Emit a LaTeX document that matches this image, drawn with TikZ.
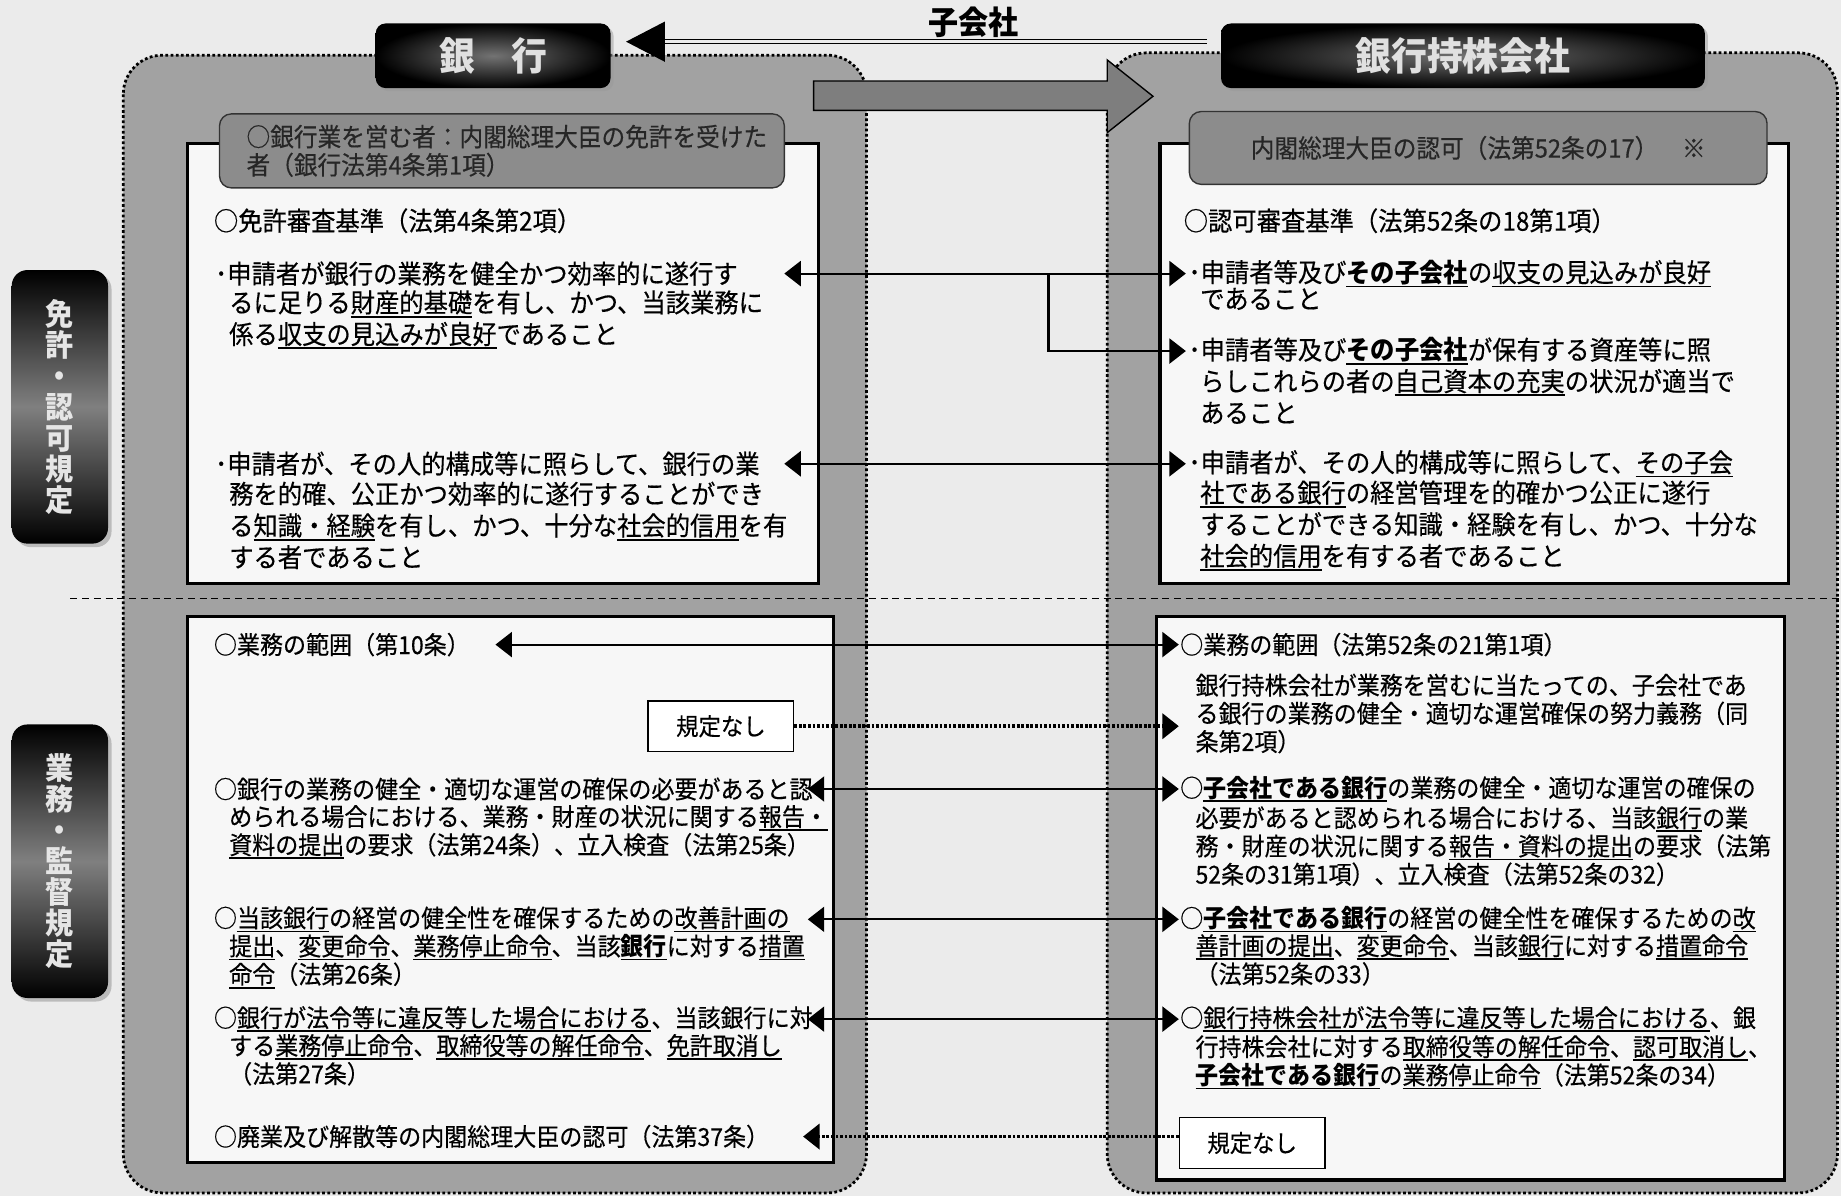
\documentclass[tikz,border=0pt]{standalone}
\usepackage{fontspec}
\setmainfont{Noto Sans CJK JP}[FakeStretch=0.93, UprightFeatures={FakeBold=0.4}]
\usepackage{tikz}
\usetikzlibrary{arrows.meta,calc,shadows}
\definecolor{paper}{HTML}{EBEBEB}
\definecolor{slate}{HTML}{A2A2A2}
\definecolor{sheet}{HTML}{F7F7F7}
\definecolor{capgray}{HTML}{8C8C8C}
\definecolor{blockgray}{HTML}{7E7E7E}
\newcommand{\hifont}{\fontsize{19pt}{23pt}\selectfont}
\newcommand{\lofont}{\fontsize{18pt}{20.5pt}\selectfont}
\newcommand{\capfont}{\fontsize{18.5pt}{20.5pt}\selectfont}
\newcommand{\ulx}[1]{\setbox0=\hbox{#1}\rlap{\rule[-0.2em]{\wd0}{0.07em}}\box0}
\newcommand{\ulb}[1]{\ulx{\bfseries #1}}
\tikzset{
  panel/.style   ={draw=black, line width=2pt, dash pattern=on 2pt off 1.8pt,
                   fill=slate, rounded corners=10mm},
  sheetbox/.style={draw=black, line width=2.3pt, fill=sheet},
  capbox/.style  ={draw=black!80, line width=1pt, fill=capgray, rounded corners=3mm,
                   text=black!85, font=\capfont, inner sep=0pt},
  title/.style   ={rounded corners=2.5mm, inner color=black!55, outer color=black,
                   text=black!12, font=\fontsize{28pt}{30pt}\selectfont\bfseries,
                   minimum height=16.5mm,
                   drop shadow={shadow xshift=0.8mm, shadow yshift=-0.8mm, fill=black!40}},
  side/.style    ={rounded corners=4mm, top color=black, bottom color=black,
                   middle color=black!50, text=black!10, align=center,
                   font=\fontsize{22pt}{22.5pt}\selectfont\bfseries,
                   minimum width=24.6mm, minimum height=69.9mm,
                   drop shadow={shadow xshift=0.9mm, shadow yshift=-0.9mm, fill=black!45}},
  txt/.style     ={anchor=west, inner sep=0pt, font=\hifont},
  txtb/.style    ={anchor=north west, inner sep=0pt, align=left, font=\hifont},
  ltxt/.style    ={txt, font=\lofont},
  ltxtb/.style   ={txtb, font=\lofont},
  nobox/.style   ={draw=black, line width=1pt, fill=white, inner sep=0pt,
                   minimum width=37.2mm, minimum height=12.9mm,
                   font=\fontsize{17.5pt}{19pt}\selectfont},
  link/.style    ={line width=1.5pt, <->},
  go/.style      ={line width=1.5pt, ->},
  dotgo/.style   ={go, line width=2.6pt, dash pattern=on 2pt off 1.3pt},
  subarrow/.style={line width=0.9pt, double=paper, double distance=0.8mm,
                   -{Triangle[length=9.9mm,width=10.2mm]}},
}

\begin{document}
\begin{tikzpicture}[x=0.3mm,y=-0.3mm,>={Triangle[length=4.2mm,width=6.4mm]}]
  \useasboundingbox (0,0) rectangle (1568,1019);
  \fill[paper] (0,0) rectangle (1568,1019);

  % ---------------------------------------------------------------- panels
  \path[panel] (105,47) rectangle (738,1016);
  \path[panel] (943,45) rectangle (1565,1016);
  \draw[line width=0.8pt, dash pattern=on 1.8mm off 1.2mm] (60,510) -- (1568,510);

  % transfer arrow between the two panels
  \draw[line width=1pt, fill=blockgray] (693,69) -- (943,69) -- (943,51) -- (982,82)
        -- (943,113) -- (943,94) -- (693,94) -- cycle;

  % ---------------------------------------------------------------- frames
  \path[sheetbox] (160,122) rectangle (697,497);
  \path[sheetbox] (988,122) rectangle (1523,497);
  \path[sheetbox] (160,525) rectangle (710,990);
  \path[sheetbox] (985,525) rectangle (1520,1005);

  \node[capbox, minimum width=144.3mm, minimum height=18.9mm, text width=130.5mm,
        align=left] (capbank) at (427.5,128.5)
        {○銀行業を営む者：内閣総理大臣の免許を受けた\\者（銀行法第4条第1項）};
  \node[capbox, minimum width=147.6mm, minimum height=18.6mm] (caphold) at (1259,126)
        {内閣総理大臣の認可（法第52条の17）　※};

  % ---------------------------------------------------------------- titles
  \node[title, minimum width=60mm]    (hdbank) at (420,47.5)  {銀　行};
  \node[title, minimum width=123.6mm] (hdhold) at (1246,47.5) {銀行持株会社};
  \draw[subarrow, shorten <=3.6mm, shorten >=3.9mm]
        ([yshift=3.6mm]hdhold.west) -- ([yshift=3.6mm]hdbank.east);
  \node[font=\fontsize{23.5pt}{25pt}\selectfont\bfseries, inner sep=0pt] (subl)
        at (829,19) {子会社};

  \node[side] (sidelic) at (51,346.5) {免\\許\\・\\認\\可\\規\\定};
  \node[side] (sidesup) at (51,733.5) {業\\務\\・\\監\\督\\規\\定};

  % ---------------------------------------------------------------- licence, bank
  \node[txt]  (lk0)  at (182,188) {○免許審査基準（法第4条第2項）};
  \node[txt]  (lk1)  at (183,233) {･申請者が銀行の業務を健全かつ効率的に遂行す};
  \node[txtb] (lk1b) at (195,247)
        {るに足りる\ulx{財産的基礎}を有し、かつ、当該業務に\\係る\ulx{収支の見込みが良好}であること};
  \node[txt]  (lk2)  at (183,395) {･申請者が、その人的構成等に照らして、銀行の業};
  \node[txtb] (lk2b) at (195,410)
        {務を的確、公正かつ効率的に遂行することができ\\る\ulx{知識・経験}を有し、かつ、十分な\ulx{社会的信用}を有\\する者であること};

  % ---------------------------------------------------------------- licence, holding
  \node[txt]  (rk0)  at (1008,188) {○認可審査基準（法第52条の18第1項）};
  \node[txt]  (rk1)  at (1012,233) {･申請者等及び\ulb{その子会社}の\ulx{収支の見込みが良好}};
  \node[txtb] (rk1b) at (1022,245) {であること};
  \node[txt]  (rk2)  at (1012,299) {･申請者等及び\ulb{その子会社}が保有する資産等に照};
  \node[txtb] (rk2b) at (1022,314)
        {らしこれらの者の\ulx{自己資本の充実}の状況が適当で\\あること};
  \node[txt]  (rk3)  at (1012,395) {･申請者が、その人的構成等に照らして、\ulx{その子会}};
  \node[txtb] (rk3b) at (1022,409)
        {\ulx{社である銀行}の経営管理を的確かつ公正に遂行\\することができる知識・経験を有し、かつ、十分な\\\ulx{社会的信用}を有する者であること};

  % ---------------------------------------------------------------- supervision, bank
  \node[ltxt]  (lb1)  at (182,549) {○業務の範囲（第10条）};
  \node[nobox] (lnone) at (614,618.5) {規定なし};
  \node[ltxt]  (lb2)  at (182,672) {○銀行の業務の健全・適切な運営の確保の必要があると認};
  \node[ltxtb] (lb2b) at (195,685.5)
        {められる場合における、業務・財産の状況に関する\ulx{報告・}\\\ulx{資料の提出}の要求（法第24条）、立入検査（法第25条）};
  \node[ltxt]  (lb3)  at (182,783) {○\ulx{当該銀行}の経営の健全性を確保するための\ulx{改善計画の}};
  \node[ltxtb] (lb3b) at (195,795.5)
        {\ulx{提出}、\ulx{変更命令}、\ulx{業務停止命令}、当該\ulb{銀行}に対する\ulx{措置}\\\ulx{命令}（法第26条）};
  \node[ltxt]  (lb4)  at (182,868) {○\ulx{銀行が法令等に違反等した場合における}、当該銀行に対};
  \node[ltxtb] (lb4b) at (195,880.5)
        {する\ulx{業務停止命令}、\ulx{取締役等の解任命令}、\ulx{免許取消し}\\（法第27条）};
  \node[ltxt]  (lb5)  at (182,968) {○廃業及び解散等の内閣総理大臣の認可（法第37条）};

  % ---------------------------------------------------------------- supervision, holding
  \node[ltxt]  (rb1)  at (1005,549) {○業務の範囲（法第52条の21第1項）};
  \node[ltxtb] (rb1b) at (1018,573.5)
        {銀行持株会社が業務を営むに当たっての、子会社であ\\る銀行の業務の健全・適切な運営確保の努力義務（同\\条第2項）};
  \node[ltxt]  (rb2)  at (1005,672) {○\ulb{子会社である銀行}の業務の健全・適切な運営の確保の};
  \node[ltxtb] (rb2b) at (1018,686.5)
        {必要があると認められる場合における、当該\ulx{銀行}の業\\務・財産の状況に関する\ulx{報告・資料の提出}の要求（法第\\52条の31第1項）、立入検査（法第52条の32）};
  \node[ltxt]  (rb3)  at (1005,783) {○\ulb{子会社である銀行}の経営の健全性を確保するための\ulx{改}};
  \node[ltxtb] (rb3b) at (1018,795.5)
        {\ulx{善計画の提出}、\ulx{変更命令}、当該\ulx{銀行}に対する\ulx{措置命令}\\（法第52条の33）};
  \node[ltxt]  (rb4)  at (1005,868) {○\ulx{銀行持株会社が法令等に違反等した場合における}、銀};
  \node[ltxtb] (rb4b) at (1018,881.5)
        {行持株会社に対する\ulx{取締役等の解任命令}、\ulx{認可取消し}、\\\ulb{子会社である銀行}の\ulx{業務停止命令}（法第52条の34）};
  \node[nobox] (rnone) at (1066.5,973.5) {規定なし};

  % ---------------------------------------------------------------- links
  \coordinate (lcolA) at (668,0);
  \coordinate (rcolA) at (1010,0);
  \coordinate (lcolB) at (688,0);
  \coordinate (rcolB) at (1004,0);
  \coordinate (lcolC) at (422,0);
  \coordinate (lcolD) at (684,0);
  \coordinate (bendx) at (893,0);
  \draw[link] (lk1 -| lcolA) -- (rk1 -| rcolA);
  \draw[go]   (lk1 -| bendx) |- (rk2 -| rcolA);
  \draw[link] (lk2 -| lcolA) -- (rk3 -| rcolA);
  \draw[link] (lb1 -| lcolC) -- (rb1 -| rcolB);
  \draw[dotgo] (lnone.east) -- (lnone.east -| rcolB);
  \draw[link] (lb2 -| lcolB) -- (rb2 -| rcolB);
  \draw[link] (lb3 -| lcolB) -- (rb3 -| rcolB);
  \draw[link] (lb4 -| lcolB) -- (rb4 -| rcolB);
  \draw[dotgo] (rnone.west |- lb5) -- (lb5 -| lcolD);
\end{tikzpicture}
\end{document}
